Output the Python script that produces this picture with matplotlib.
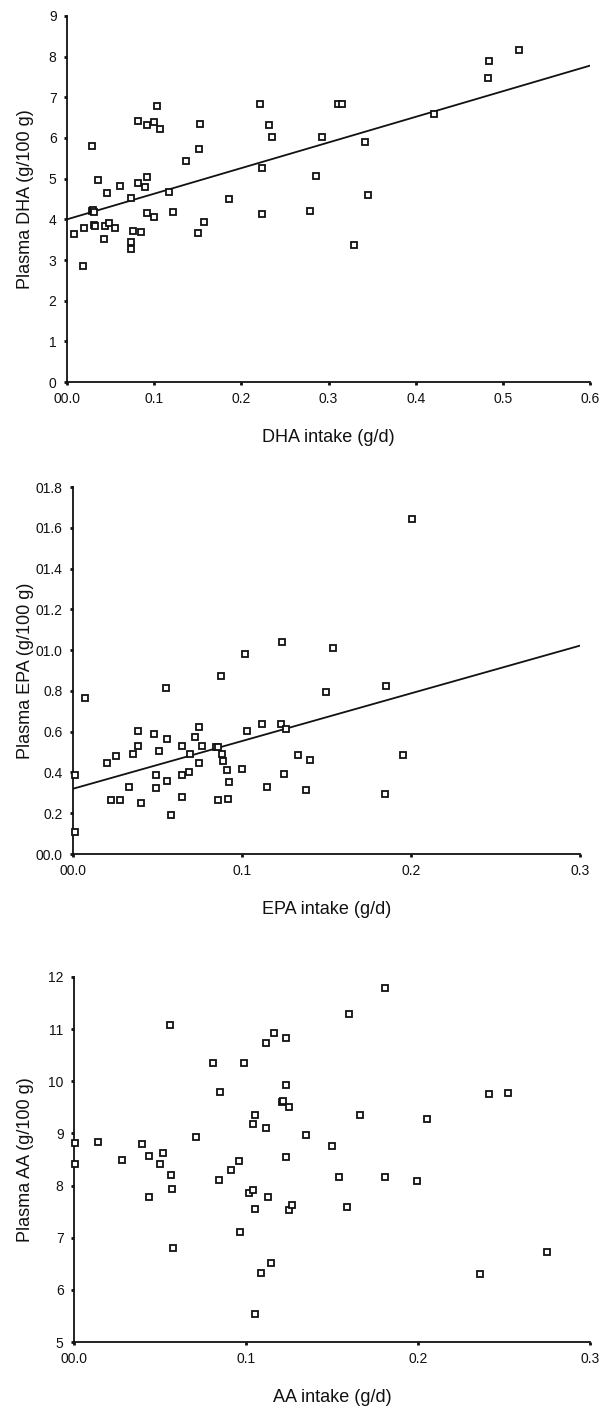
import matplotlib
matplotlib.use("Agg")
import matplotlib.pyplot as plt
from matplotlib.ticker import FixedLocator, FixedFormatter

plt.rcParams['font.family'] = ['Liberation Sans', 'DejaVu Sans']

# ---------------- DHA panel ----------------
dha_x = [0.008, 0.018, 0.0195, 0.029, 0.030, 0.031, 0.029, 0.031, 0.032, 0.035,
         0.042, 0.0436, 0.0455, 0.0485, 0.0547, 0.061, 0.073, 0.073, 0.073, 0.076,
         0.081, 0.082, 0.085, 0.090, 0.092, 0.092, 0.092, 0.0998, 0.0998, 0.103,
         0.107, 0.117, 0.122, 0.136, 0.150, 0.152, 0.1525, 0.157, 0.186, 0.221,
         0.224, 0.224, 0.232, 0.235, 0.279, 0.286, 0.292, 0.311, 0.316, 0.3295,
         0.342, 0.345, 0.4205, 0.483, 0.484, 0.519]
dha_y = [3.65, 2.85, 3.78, 4.20, 4.22, 4.17, 5.81, 3.85, 3.83, 4.97,
         3.51, 3.83, 4.65, 3.92, 3.78, 4.83, 4.53, 3.44, 3.27, 3.72,
         6.41, 4.89, 3.69, 4.79, 5.04, 6.32, 4.15, 6.39, 4.06, 6.78,
         6.21, 4.68, 4.18, 5.43, 3.66, 5.72, 6.34, 3.93, 4.50, 6.84,
         5.25, 4.12, 6.31, 6.02, 4.20, 5.06, 6.03, 6.84, 6.84, 3.37,
         5.89, 4.61, 6.58, 7.47, 7.89, 8.16]
dha_fit = [4.0, 6.3]          # intercept, slope
dha_xticks = [0.0, 0.1, 0.2, 0.3, 0.4, 0.5, 0.6]
dha_xticklabels = ["00.0", "0.1", "0.2", "0.3", "0.4", "0.5", "0.6"]
dha_yticks = [0, 1, 2, 3, 4, 5, 6, 7, 8, 9]
dha_yticklabels = ["0", "1", "2", "3", "4", "5", "6", "7", "8", "9"]

# ---------------- EPA panel ----------------
epa_x = [0.0069, 0.0014, 0.0014, 0.020, 0.0254, 0.0223, 0.0276, 0.033, 0.0353, 0.0385,
         0.0385, 0.040, 0.048, 0.0493, 0.0493, 0.051, 0.055, 0.0558, 0.0558, 0.058,
         0.0643, 0.0643, 0.0643, 0.0684, 0.069, 0.0722, 0.0747, 0.0746, 0.0763, 0.0846,
         0.086, 0.086, 0.0876, 0.088, 0.0886, 0.091, 0.0915, 0.0925, 0.100, 0.1028,
         0.102, 0.112, 0.115, 0.123, 0.1237, 0.126, 0.125, 0.133, 0.140, 0.1377,
         0.1495, 0.154, 0.1854, 0.1844, 0.195, 0.2006]
epa_y = [0.763, 0.388, 0.11, 0.444, 0.483, 0.264, 0.264, 0.328, 0.49, 0.603,
         0.532, 0.25, 0.591, 0.388, 0.323, 0.503, 0.812, 0.562, 0.36, 0.192,
         0.532, 0.388, 0.282, 0.40, 0.49, 0.575, 0.623, 0.444, 0.532, 0.524,
         0.524, 0.264, 0.871, 0.491, 0.457, 0.414, 0.27, 0.354, 0.419, 0.603,
         0.979, 0.64, 0.328, 0.64, 1.04, 0.611, 0.392, 0.485, 0.462, 0.313,
         0.795, 1.009, 0.826, 0.295, 0.486, 1.645]
epa_fit = [0.32, 2.34]
epa_xticks = [0.0, 0.1, 0.2, 0.3]
epa_xticklabels = ["00.0", "0.1", "0.2", "0.3"]
epa_yticks = [0.0, 0.2, 0.4, 0.6, 0.8, 1.0, 1.2, 1.4, 1.6, 1.8]
epa_yticklabels = ["00.0", "0.2", "0.4", "0.6", "0.8", "01.0", "01.2", "01.4", "01.6", "01.8"]

# ---------------- AA panel ----------------
aa_x = [0.056, 0.0806, 0.099, 0.085, 0.1114, 0.116, 0.1233, 0.1233, 0.1207, 0.1215,
        0.125, 0.105, 0.104, 0.1116, 0.135, 0.0707, 0.0138, 0.181, 0.16, 0.241,
        0.2523, 0.1665, 0.2054, 0.0008, 0.0008, 0.0277, 0.0397, 0.0438, 0.0438, 0.05,
        0.052, 0.0562, 0.0568, 0.0574, 0.0843, 0.0911, 0.0957, 0.0965, 0.1017, 0.1042,
        0.105, 0.105, 0.1089, 0.1143, 0.1128, 0.1233, 0.1252, 0.1267, 0.150, 0.154,
        0.181, 0.1992, 0.1587, 0.2752, 0.2362]
aa_y = [11.08, 10.36, 10.36, 9.79, 10.74, 10.93, 10.83, 9.92, 9.61, 9.62,
        9.51, 9.36, 9.18, 9.11, 8.97, 8.94, 8.84, 11.79, 11.30, 9.75,
        9.77, 9.36, 9.27, 8.82, 8.41, 8.50, 8.80, 8.57, 7.78, 8.42,
        8.63, 8.20, 7.94, 6.80, 8.11, 8.29, 8.47, 7.11, 7.85, 7.91,
        7.55, 5.54, 6.32, 6.52, 7.78, 8.55, 7.53, 7.62, 8.76, 8.17,
        8.16, 8.09, 7.58, 6.72, 6.30]
aa_xticks = [0.0, 0.1, 0.2, 0.3]
aa_xticklabels = ["00.0", "0.1", "0.2", "0.3"]
aa_yticks = [5, 6, 7, 8, 9, 10, 11, 12]
aa_yticklabels = ["5", "6", "7", "8", "9", "10", "11", "12"]

W, H = 601, 1408
fig = plt.figure(figsize=(W / 100, H / 100), dpi=100)


def make_axes(l, r, t, b):
    return fig.add_axes([l / W, 1 - b / H, (r - l) / W, (b - t) / H])


def style(ax, xlim, ylim, xt, xtl, yt, ytl, xlabel, ylabel, ylab_x):
    ax.set_xlim(*xlim)
    ax.set_ylim(*ylim)
    ax.xaxis.set_major_locator(FixedLocator(xt))
    ax.xaxis.set_major_formatter(FixedFormatter(xtl))
    ax.yaxis.set_major_locator(FixedLocator(yt))
    ax.yaxis.set_major_formatter(FixedFormatter(ytl))
    for s in ['top', 'right']:
        ax.spines[s].set_visible(False)
    for s in ['left', 'bottom']:
        ax.spines[s].set_linewidth(1.3)
        ax.spines[s].set_color('#111111')
    ax.tick_params(axis='both', which='major', length=2.5, width=2.0,
                   direction='out', labelsize=10, colors='#111111', pad=5)
    ax.set_xlabel(xlabel, fontsize=13, color='#111111')
    ax.set_ylabel(ylabel, fontsize=13, color='#111111')
    ax.xaxis.set_label_coords(0.5, -0.128)
    ax.yaxis.set_label_coords(ylab_x, 0.5)
    for lab in ax.get_xticklabels() + ax.get_yticklabels():
        lab.set_clip_on(False)


mk = dict(marker='s', linestyle='none', markersize=4.2, markerfacecolor='white',
          markeredgecolor='#111111', markeredgewidth=1.3, clip_on=False, zorder=3)

# Panel 1
ax1 = make_axes(67, 590, 16, 382)
ax1.plot(dha_x, dha_y, **mk)
ax1.plot([0.0, 0.6], [dha_fit[0], dha_fit[0] + dha_fit[1] * 0.6],
         color='#111111', lw=1.3, zorder=2)
style(ax1, (0, 0.6), (0, 9), dha_xticks, dha_xticklabels, dha_yticks, dha_yticklabels,
      "DHA intake (g/d)", "Plasma DHA (g/100 g)", -0.063)

# Panel 2
ax2 = make_axes(73, 580, 487, 854)
ax2.plot(epa_x, epa_y, **mk)
ax2.plot([0.0, 0.3], [epa_fit[0], epa_fit[0] + epa_fit[1] * 0.3],
         color='#111111', lw=1.3, zorder=2)
style(ax2, (0, 0.3), (0, 1.8), epa_xticks, epa_xticklabels, epa_yticks, epa_yticklabels,
      "EPA intake (g/d)", "Plasma EPA (g/100 g)", -0.077)

# Panel 3
ax3 = make_axes(74, 590, 977, 1342)
ax3.plot(aa_x, aa_y, **mk)
style(ax3, (0, 0.3), (5, 12), aa_xticks, aa_xticklabels, aa_yticks, aa_yticklabels,
      "AA intake (g/d)", "Plasma AA (g/100 g)", -0.0775)

fig.savefig("out.png", dpi=100, facecolor='white')
